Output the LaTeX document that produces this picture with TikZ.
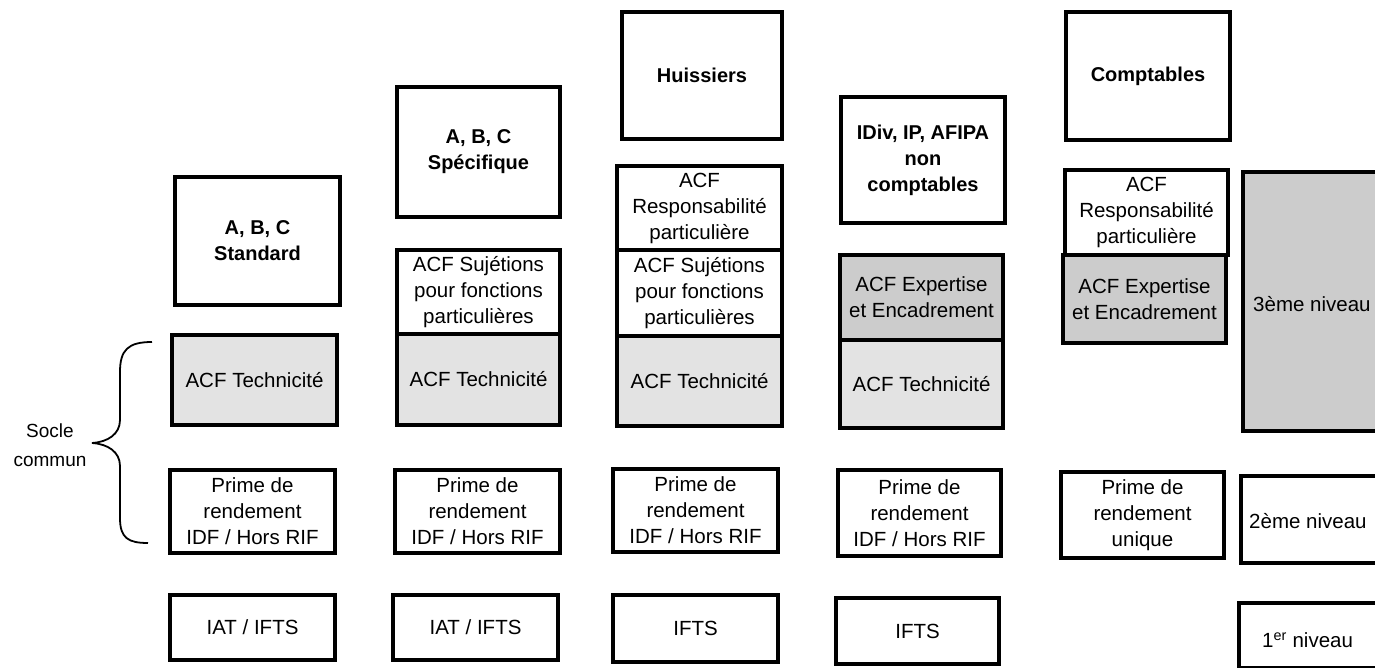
\documentclass[tikz,border=0pt]{standalone}
\usepackage{fontspec}
\setmainfont{Liberation Sans}
\newcommand\bx[7]{\node[#2, minimum width={#5-#3}, minimum height={#6-#4}] (#1) at ({(#3+#5)/2},{(#4+#6)/2}) {#7};}
\begin{document}
\begin{tikzpicture}[x=1pt,y=-1pt,
  box/.style={draw, line width=3.8pt, align=center, inner sep=0pt, font=\fontsize{20.5}{26}\selectfont},
  head/.style={box, font=\fontsize{20}{26}\selectfont\bfseries},
  techbox/.style={box, fill=gray!22},
  expbox/.style={box, fill=gray!40},
  lbl/.style={inner sep=0pt, font=\fontsize{20.5}{24}\selectfont, anchor=west},
  bracestyle/.style={line width=1.8pt}]
\useasboundingbox (0,0) rectangle (1375,668);
\clip (0,0) rectangle (1375,668);
% column 1
\bx{h1}{head}{175}{177}{340}{305}{A, B, C\\Standard}
\bx{t1}{techbox}{172}{335}{337}{425}{ACF Technicité}
\bx{p1}{box}{170}{470}{335}{553}{Prime de\\rendement\\IDF / Hors RIF}
\bx{i1}{box}{170}{595}{335}{660}{IAT / IFTS}
% column 2
\bx{h2}{head}{397}{87}{560}{217}{A, B, C\\Spécifique}
\bx{s2}{box}{397}{250}{560}{334}{ACF Sujétions\\pour fonctions\\particulières}
\bx{t2}{techbox}{397}{334}{560}{425}{ACF Technicité}
\bx{p2}{box}{395}{470}{560}{553}{Prime de\\rendement\\IDF / Hors RIF}
\bx{i2}{box}{393}{595}{558}{660}{IAT / IFTS}
% column 3
\bx{h3}{head}{622}{12}{782}{139}{Huissiers}
\bx{r3}{box}{617}{166}{782}{250}{ACF\\Responsabilité\\particulière}
\bx{s3}{box}{617}{250}{782}{336}{ACF Sujétions\\pour fonctions\\particulières}
\bx{t3}{techbox}{617}{336}{782}{426}{ACF Technicité}
\bx{p3}{box}{613}{469}{778}{552}{Prime de\\rendement\\IDF / Hors RIF}
\bx{i3}{box}{613}{595}{778}{662}{IFTS}
% column 4
\bx{h4}{head}{841}{97}{1005}{223}{IDiv, IP, AFIPA\\non\\comptables}
\bx{e4}{expbox}{840}{255}{1003}{340}{ACF Expertise\\et Encadrement}
\bx{t4}{techbox}{840}{340}{1003}{428}{ACF Technicité}
\bx{p4}{box}{838}{470}{1001}{556}{Prime de\\rendement\\IDF / Hors RIF}
\bx{i4}{box}{836}{598}{999}{664}{IFTS}
% column 5
\bx{h5}{head}{1066}{12}{1230}{140}{Comptables}
\bx{r5}{box}{1065}{170}{1228}{255}{ACF\\Responsabilité\\particulière}
\bx{e5}{expbox}{1063}{255}{1226}{343}{ACF Expertise\\et Encadrement}
\bx{p5}{box}{1061}{472}{1224}{558}{Prime de\\rendement\\unique}
% column 6
\bx{n3}{expbox}{1243}{172}{1400}{431}{}
\bx{n2}{box}{1241}{476}{1400}{563}{}
\bx{n1}{box}{1239}{603}{1400}{668}{}
\node[lbl] (n3t) at (1253,304) {3ème niveau};
\node[lbl] (n2t) at (1249,521) {2ème niveau};
\node[lbl] (n1t) at (1262,640) {1\textsuperscript{er} niveau};
% socle commun
\node[inner sep=0pt, align=center, font=\fontsize{19}{29}\selectfont] (socle) at (50,445) {Socle\\commun};
\coordinate (bt) at (152,342);
\coordinate (bb) at (148,543);
\coordinate (tip) at (92,443);
\draw[bracestyle] (bt) .. controls (128,342) and (120,350) .. (120,372)
  -- (120,420) .. controls (120,434) and (108,442) .. (tip)
  .. controls (108,444) and (120,452) .. (120,466)
  -- (120,518) .. controls (120,538) and (128,543) .. (bb);
\end{tikzpicture}
\end{document}
